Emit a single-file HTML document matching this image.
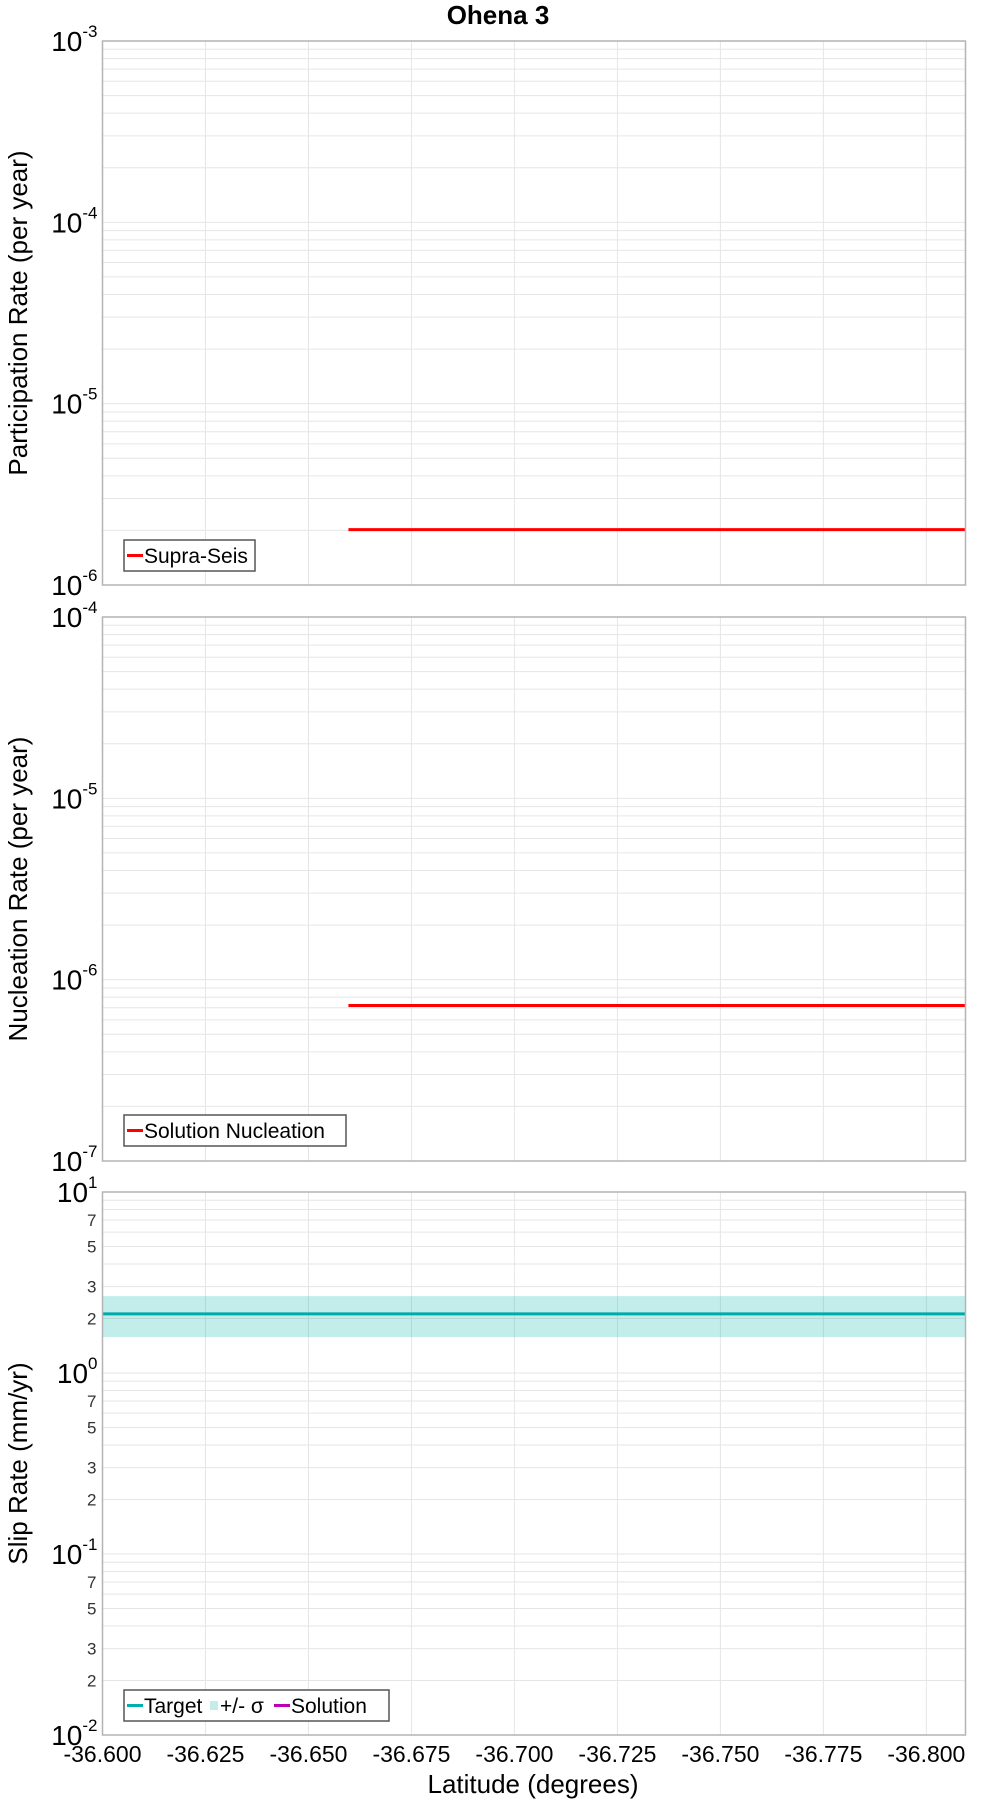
<!DOCTYPE html>
<html><head><meta charset="utf-8"><style>
html,body{margin:0;padding:0;background:#fff;}
svg{display:block;font-family:"Liberation Sans","DejaVu Sans",sans-serif;}
</style></head><body>
<svg id="chart" width="1000" height="1800" xmlns="http://www.w3.org/2000/svg">
<text x="498" y="24" text-anchor="middle" font-size="26" font-weight="bold">Ohena 3</text>
</svg>
<script>
// Data
const xTickValues = [-36.600, -36.625, -36.650, -36.675, -36.700, -36.725, -36.750, -36.775, -36.800];
const xDomain = [-36.600, -36.8095];
const partRateStart = [-36.6597, -36.8095];
const partRateValue = [2.02e-6, 2.02e-6];
const nuclRateStart = [-36.6597, -36.8095];
const nuclRateValue = [7.2e-7, 7.2e-7];
const slipLat = [-36.600, -36.8095];
const slipTarget = [2.12, 2.12];
const slipUpper = [2.66, 2.66];
const slipLower = [1.58, 1.58];

const NS = "http://www.w3.org/2000/svg";
const svg = document.getElementById('chart');
const L = 102.5, R = 965.5;
function mk(tag, attrs, parent) {
  const e = document.createElementNS(NS, tag);
  for (const k in attrs) e.setAttribute(k, attrs[k]);
  (parent || svg).appendChild(e);
  return e;
}
function xs(v) { return L + (v - xDomain[0]) / (xDomain[1] - xDomain[0]) * (R - L); }

function panel(top, bottom, decMax, decMin, minorLabels, title, name) {
  const g = mk('g', {});
  
  
  const ys = v => top + (decMax - Math.log10(v)) / (decMax - decMin) * (bottom - top);
  xTickValues.forEach(t => {
    const l = mk('line', {x1: xs(t), x2: xs(t), y1: top, y2: bottom, stroke: '#e6e6e6', 'stroke-width': 1}, g);
    
    
  });
  for (let d = decMin; d < decMax; d++) {
    for (let m = 1; m <= 9; m++) {
      const y = ys(m * Math.pow(10, d));
      const l = mk('line', {x1: L, x2: R, y1: y, y2: y, stroke: '#e6e6e6', 'stroke-width': 1}, g);
      
      
      if (minorLabels && [2,3,5,7].includes(m)) {
        const t = mk('text', {x: L - 6, y: y + 6, 'text-anchor': 'end', 'font-size': 17, fill: '#333'}, g);
        t.textContent = m;
        
        
      }
    }
  }
  for (let d = decMin; d <= decMax; d++) {
    const y = ys(Math.pow(10, d));
    const t = mk('text', {x: L - 5, y: y + 10, 'text-anchor': 'end', 'font-size': 28}, g);
    
    
    const base = mk('tspan', {}, t); base.textContent = '10';
    const sup = mk('tspan', {dy: -14, 'font-size': 17}, t); sup.textContent = String(d);
  }
  const ty = mk('text', {x: 0, y: 0, transform: `translate(27,${(top+bottom)/2}) rotate(-90)`, 'text-anchor': 'middle', 'font-size': 26}, g);
  ty.textContent = title;
  
  
  return {g, ys};
}
function frame(g, top, bottom) {
  const r = mk('rect', {x: L, y: top, width: R - L, height: bottom - top, fill: 'none', stroke: '#b4b4b4', 'stroke-width': 1.5}, g);
  
  
}
function legend(g, x, y, w, items) {
  const b = mk('rect', {x: x, y: y, width: w, height: 31, fill: '#fff', stroke: '#555', 'stroke-width': 1.5}, g);
  
  
  let cx = x + 3;
  items.forEach(it => {
    const sw = it.band
      ? mk('rect', {x: cx, y: y + 11, width: 8, height: 9, fill: it.color}, g)
      : mk('rect', {x: cx, y: y + 14, width: 16, height: 3, fill: it.color}, g);
    
    
    cx += it.band ? 10 : 17;
    const t = mk('text', {x: cx, y: y + 23, 'font-size': 21}, g);
    t.textContent = it.label;
    
    
    cx += it.w;
  });
}

// Panel 1
let p = panel(41, 585, -3, -6, false, 'Participation Rate (per year)', 'participation');
let l1 = mk('line', {x1: xs(partRateStart[0]), x2: xs(partRateStart[1]), y1: p.ys(partRateValue[0]), y2: p.ys(partRateValue[1]), stroke: '#ff0000', 'stroke-width': 3}, p.g);


legend(p.g, 124, 540, 131, [{color: '#ff0000', label: 'Supra-Seis', w: 110}]);
frame(p.g, 41, 585);

// Panel 2
p = panel(617, 1161, -4, -7, false, 'Nucleation Rate (per year)', 'nucleation');
let l2 = mk('line', {x1: xs(nuclRateStart[0]), x2: xs(nuclRateStart[1]), y1: p.ys(nuclRateValue[0]), y2: p.ys(nuclRateValue[1]), stroke: '#ff0000', 'stroke-width': 3}, p.g);


legend(p.g, 124, 1115, 222, [{color: '#ff0000', label: 'Solution Nucleation', w: 200}]);
frame(p.g, 617, 1161);

// Panel 3
p = panel(1192, 1735, 1, -2, true, 'Slip Rate (mm/yr)', 'slip-rate');
const band = mk('rect', {x: xs(slipLat[0]), y: p.ys(slipUpper[0]), width: xs(slipLat[1]) - xs(slipLat[0]), height: p.ys(slipLower[0]) - p.ys(slipUpper[0]), fill: 'rgba(0,180,170,0.24)'}, p.g);


const l3 = mk('line', {x1: xs(slipLat[0]), x2: xs(slipLat[1]), y1: p.ys(slipTarget[0]), y2: p.ys(slipTarget[1]), stroke: '#00aaaa', 'stroke-width': 3}, p.g);


legend(p.g, 124, 1690, 265, [
  {color: '#00b0b0', label: 'Target', w: 66},
  {color: '#c4ecea', label: '+/- σ', band: true, w: 54},
  {color: '#bb00bb', label: 'Solution', w: 84}]);
frame(p.g, 1192, 1735);

// X tick labels
xTickValues.forEach(t => {
  const tx = mk('text', {x: xs(t), y: 1762, 'text-anchor': 'middle', 'font-size': 23});
  tx.textContent = t.toFixed(3);
  
  
});
const xt = mk('text', {x: 533, y: 1793, 'text-anchor': 'middle', 'font-size': 26});
xt.textContent = 'Latitude (degrees)';


</script>
</body></html>
